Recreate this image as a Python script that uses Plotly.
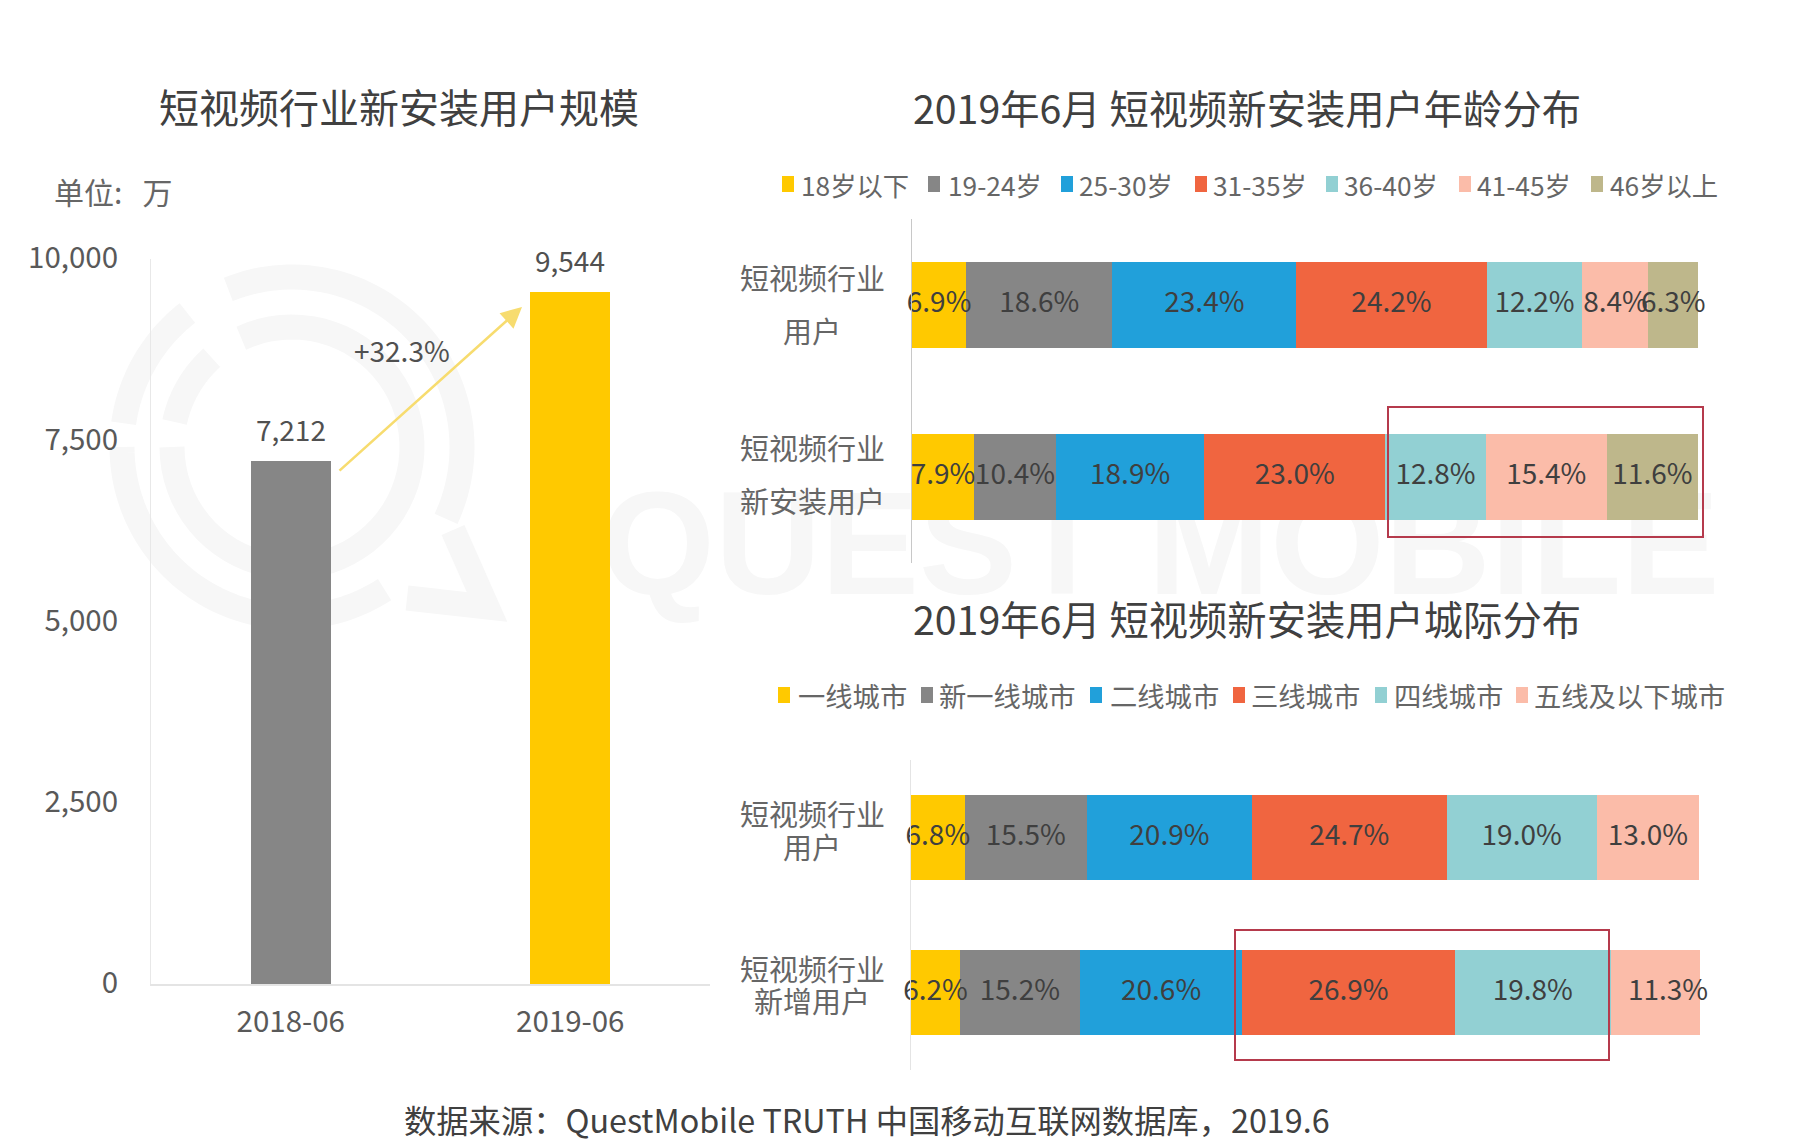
import math
import plotly.graph_objects as go

W, H = 1801, 1148
FONT = "Noto Sans CJK SC"

# ---- data ----
size_periods = ["2018-06", "2019-06"]
size_values = [7212, 9544]
size_colors = ["#868686", "#FFC900"]
size_ticks = [0, 2500, 5000, 7500, 10000]
growth_label = "+32.3%"

age_groups = ["18岁以下", "19-24岁", "25-30岁", "31-35岁", "36-40岁", "41-45岁", "46岁以上"]
age_rows = ["短视频行业\n用户", "短视频行业\n新安装用户"]
age_all_users = [6.9, 18.6, 23.4, 24.2, 12.2, 8.4, 6.3]
age_new_users = [7.9, 10.4, 18.9, 23.0, 12.8, 15.4, 11.6]

city_groups = ["一线城市", "新一线城市", "二线城市", "三线城市", "四线城市", "五线及以下城市"]
city_rows = ["短视频行业\n用户", "短视频行业\n新增用户"]
city_all_users = [6.8, 15.5, 20.9, 24.7, 19.0, 13.0]
city_new_users = [6.2, 15.2, 20.6, 26.9, 19.8, 11.3]

palette = ["#FFC900", "#868686", "#21A0DA", "#F06540", "#92D0D3", "#FBBCA9", "#BEB78B"]

title_left = "短视频行业新安装用户规模"
title_age = "2019年6月 短视频新安装用户年龄分布"
title_city = "2019年6月 短视频新安装用户城际分布"
unit_text = "单位:   万"
source_text = "数据来源：QuestMobile TRUTH 中国移动互联网数据库，2019.6"
watermark = "QUEST MOBILE"


def px(x):
    return x / W


def py(y):
    return 1 - y / H


TEXT = "#4A4A4A"
fig = go.Figure()

# left chart
fig.add_trace(go.Bar(
    x=size_periods, y=size_values, marker=dict(color=size_colors, line_width=0),
    width=0.287, xaxis="x", yaxis="y", showlegend=False, cliponaxis=False))


# stacked charts; labels sit in a text trace so later segments cannot cover them
def stacked(groups, rows, series, xa, ya, bar_width, nudges=None):
    nudges = nudges or {}
    for i, g in enumerate(groups):
        fig.add_trace(go.Bar(
            name=g, orientation="h", y=rows, x=[s[i] for s in series],
            xaxis=xa, yaxis=ya, width=bar_width, showlegend=False,
            marker=dict(color=palette[i], line_width=0)))
    xs, ys, ts = [], [], []
    for r, (row, s) in enumerate(zip(rows, series)):
        left = 0.0
        for k, v in enumerate(s):
            xs.append(left + v / 2 + nudges.get((r, k), 0))
            ys.append(row)
            ts.append(f"{v:.1f}%")
            left += v
    fig.add_trace(go.Scatter(
        x=xs, y=ys, text=ts, mode="text", textposition="middle center",
        xaxis=xa, yaxis=ya, showlegend=False, cliponaxis=False,
        textfont=dict(family=FONT, size=28, color="#3F3F3F")))


stacked(age_groups, age_rows, [age_all_users, age_new_users], "x2", "y2", 0.497)
stacked(city_groups, city_rows, [city_all_users, city_new_users], "x3", "y3", 0.548,
        nudges={(1, 5): 1.6})

ann = []


def label(text, x, y, size, color=TEXT, anchor="center"):
    ann.append(dict(text=text, x=px(x), y=py(y), xref="paper", yref="paper",
                    xanchor=anchor, yanchor="middle", showarrow=False,
                    font=dict(family=FONT, size=size, color=color)))


label(title_left, 399, 106, 40, "#404040")
label(title_age, 1247, 106, 39.3, "#404040")
label(title_city, 1247, 617, 39.3, "#404040")
label(unit_text, 52, 191, 30, "#666666", "left")
label(source_text, 867, 1119, 32.3, "#404040")
label(growth_label, 402, 350, 28, "#505050")

# value labels above the left bars
for p, v in zip(size_periods, size_values):
    ann.append(dict(text=f"{v:,}", x=p, y=v, xref="x", yref="y", yanchor="bottom",
                    yshift=10, showarrow=False,
                    font=dict(family=FONT, size=28, color="#505050")))

# growth arrow
ann.append(dict(x=px(522), y=py(307), xref="paper", yref="paper", text="",
                ax=-184, ay=165, axref="pixel", ayref="pixel",
                showarrow=True, arrowhead=2, arrowsize=1.6, arrowwidth=2.6,
                arrowcolor="#F7DC6F", standoff=0))

# row labels, one annotation per line (spacing differs between the panels)
for rows, centers in [(age_rows, [277, 330, 447, 500]),
                      (city_rows, [813, 846, 968, 1000])]:
    lines = [t for r in rows for t in r.split("\n")]
    for t, y in zip(lines, centers):
        label(t, 812, y, 29, "#666666")

shapes = []


# legends
def legend(groups, sq_x, tx_x, y, size):
    for i, (g, sx, tx) in enumerate(zip(groups, sq_x, tx_x)):
        shapes.append(dict(type="rect", xref="paper", yref="paper",
                           x0=px(sx - 6), x1=px(sx + 6), y0=py(y - 8), y1=py(y + 8),
                           fillcolor=palette[i], line_width=0))
        label(g, tx - 2, y, size, "#666666", "left")


legend(age_groups, [788, 934, 1067, 1201, 1332, 1465, 1597],
       [801, 948, 1079, 1213, 1344, 1477, 1610], 184, 26.3)
legend(city_groups, [784, 927, 1096, 1239, 1381, 1522],
       [798, 939, 1110, 1251, 1394, 1534], 695, 27.3)

# highlight boxes
for x0, x1, y0, y1 in [(1388, 1703, 407, 537), (1235, 1609, 930, 1060)]:
    shapes.append(dict(type="rect", xref="paper", yref="paper", layer="above",
                       x0=px(x0), x1=px(x1), y0=py(y0), y1=py(y1),
                       line=dict(color="#B53A4C", width=2), fillcolor="rgba(0,0,0,0)"))

# faint watermark behind the charts
WM = "#F7F7F7"
shapes.append(dict(type="rect", xref="paper", yref="paper", layer="below",
                   x0=px(600), x1=px(1720), y0=py(465), y1=py(592),
                   line_width=0, fillcolor="rgba(0,0,0,0)",
                   label=dict(text=watermark, textposition="middle center",
                              font=dict(family="Liberation Sans", size=147,
                                        color=WM, weight="bold"))))


def arc(cx, cy, r, a0, a1, n=60):
    pts = []
    for k in range(n + 1):
        a = math.radians(a0 + (a1 - a0) * k / n)
        pts.append((cx + r * math.cos(a), cy - r * math.sin(a)))
    return pts


def stroke(pts, width=25):
    d = "M" + " L".join(f"{px(x):.5f},{py(y):.5f}" for x, y in pts)
    shapes.append(dict(type="path", path=d, xref="paper", yref="paper", layer="below",
                       line=dict(color=WM, width=width), fillcolor="rgba(0,0,0,0)"))


CX, CY = 292, 447
stroke(arc(CX, CY, 170, 112, -25))
stroke(arc(CX, CY, 170, -57, -180))
stroke(arc(CX, CY, 170, 172, 128))
stroke(arc(CX, CY, 120, 115, -180))
stroke(arc(CX, CY, 120, 168, 132))
stroke([(453, 530), (487, 607), (407, 598)])

axis_common = dict(showgrid=False, zeroline=False, ticks="", automargin=False)
fig.update_layout(
    width=W, height=H, margin=dict(l=0, r=0, t=0, b=0),
    paper_bgcolor="white", plot_bgcolor="rgba(0,0,0,0)",
    barmode="stack", showlegend=False,
    font=dict(family=FONT, color=TEXT),
    annotations=ann, shapes=shapes,
    xaxis=dict(domain=[px(151), px(710)], anchor="y", type="category",
               showline=True, linecolor="#E4E4E4", linewidth=2,
               tickfont=dict(family=FONT, size=29.5, color="#595959"),
               ticklabelstandoff=11, **axis_common),
    yaxis=dict(domain=[py(984), py(259)], anchor="x", range=[0, 10000],
               tickvals=size_ticks, tickformat=",",
               showline=True, linecolor="#E8E8E8", linewidth=1,
               tickfont=dict(family=FONT, size=29.5, color="#595959"),
               ticklabelstandoff=26, ticklabelshift=-1, **axis_common),
    xaxis2=dict(domain=[px(912), px(1698)], anchor="y2", range=[0, 100],
                showticklabels=False, showline=False, **axis_common),
    yaxis2=dict(domain=[py(563), py(219)], anchor="x2", type="category",
                autorange="reversed", showticklabels=False,
                showline=True, linecolor="#C8C8C8", linewidth=1, **axis_common),
    xaxis3=dict(domain=[px(911), px(1700)], anchor="y3", range=[0, 100],
                showticklabels=False, showline=False, **axis_common),
    yaxis3=dict(domain=[py(1070), py(760)], anchor="x3", type="category",
                autorange="reversed", showticklabels=False,
                showline=True, linecolor="#E4E4E4", linewidth=1, **axis_common),
)

fig.write_html("out.html", config={"displayModeBar": False},
               post_script="document.body.style.margin='0';")
